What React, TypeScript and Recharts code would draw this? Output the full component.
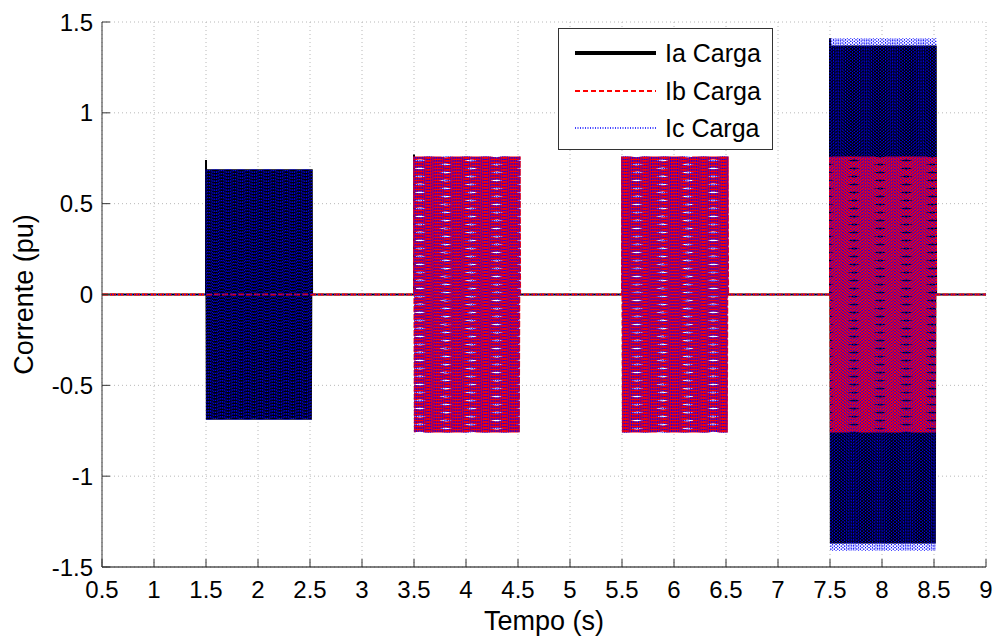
import React from "react";
import {
  ComposedChart,
  Line,
  XAxis,
  YAxis,
  CartesianGrid,
  Label,
} from "recharts";

// time windows (s) where the load is connected
const bursts: [number, number][] = [
  [1.5, 2.52],
  [3.5, 4.52],
  [5.5, 6.52],
  [7.5, 8.52],
];

// peak current (pu) of each phase in each window
const iaPeak = [0.69, 0, 0, 1.37];
const ibPeak = [0, 0.76, 0.76, 0.76];
const icPeak = [0.69, 0.76, 0.76, 1.41];
// first peak of Ia when the load switches on
const iaOnset = [0.74, 0.77, 0, 1.41];

const xTicks = [0.5, 1, 1.5, 2, 2.5, 3, 3.5, 4, 4.5, 5, 5.5, 6, 6.5, 7, 7.5, 8, 8.5, 9];
const yTicks = [-1.5, -1, -0.5, 0, 0.5, 1, 1.5];

const halfCyclesPerSecond = 120; // 60 Hz

type Row = { t: number; ia: number; ib: number; ic: number };

const rows: Row[] = [{ t: 0.5, ia: 0, ib: 0, ic: 0 }];
bursts.forEach(([start, end], i) => {
  rows.push({ t: start, ia: 0, ib: 0, ic: 0 });
  const n = Math.round((end - start) * halfCyclesPerSecond);
  for (let k = 0; k <= n; k++) {
    const s = k % 2 === 0 ? 1 : -1;
    rows.push({
      t: start + k / halfCyclesPerSecond,
      ia: k === 0 ? iaOnset[i] : s * iaPeak[i],
      ib: s * ibPeak[i],
      ic: s * icPeak[i],
    });
  }
  rows.push({ t: end, ia: 0, ib: 0, ic: 0 });
});
rows.push({ t: 9, ia: 0, ib: 0, ic: 0 });

const FONT = "'Liberation Sans', Arial, Helvetica, sans-serif";
const AXIS = "#333333";

const BottomTick = (props: any) => {
  const { x, y, payload } = props;
  return (
    <g>
      <line x1={x} x2={x} y1={y} y2={y - 8} stroke={AXIS} strokeWidth={1} />
      <text x={x} y={y + 31} textAnchor="middle" fontSize={24} fill="#000" fontFamily={FONT}>
        {String(payload.value)}
      </text>
    </g>
  );
};

const TopTick = (props: any) => {
  const { x, y } = props;
  return <line x1={x} x2={x} y1={y} y2={y + 8} stroke={AXIS} strokeWidth={1} />;
};

const LeftTick = (props: any) => {
  const { x, y, payload } = props;
  return (
    <g>
      <line x1={x} x2={x + 8} y1={y} y2={y} stroke={AXIS} strokeWidth={1} />
      <text x={x - 9} y={y + 8.5} textAnchor="end" fontSize={24} fill="#000" fontFamily={FONT}>
        {String(payload.value)}
      </text>
    </g>
  );
};

const RightTick = (props: any) => {
  const { x, y } = props;
  return <line x1={x} x2={x - 8} y1={y} y2={y} stroke={AXIS} strokeWidth={1} />;
};

const legendItems = [
  { name: "Ia Carga", color: "#000000", width: 4, dash: undefined },
  { name: "Ib Carga", color: "#ff0000", width: 2, dash: "5 3" },
  { name: "Ic Carga", color: "#0000ff", width: 1.5, dash: "1 1.5" },
];

export default function App() {
  return (
    <div
      style={{
        position: "absolute",
        left: 0,
        top: 0,
        width: 998,
        height: 639,
        background: "#fff",
        fontFamily: FONT,
      }}
    >
      <ComposedChart
        width={998}
        height={639}
        data={rows}
        margin={{ top: 22, right: 12, bottom: 22, left: 42 }}
      >
        <CartesianGrid stroke="#b8b8b8" strokeDasharray="1 3" />
        <XAxis
          dataKey="t"
          type="number"
          domain={[0.5, 9]}
          ticks={xTicks}
          interval={0}
          height={50}
          tickSize={0}
          tickMargin={0}
          tickLine={false}
          axisLine={{ stroke: "#000" }}
          tick={BottomTick}
          allowDataOverflow
        >
          <Label
            content={(p: any) => {
              const vb = p.viewBox;
              return (
                <text
                  x={vb.x + vb.width / 2}
                  y={vb.y + 63}
                  textAnchor="middle"
                  fontSize={27}
                  fontFamily={FONT}
                  fill="#000"
                >
                  Tempo (s)
                </text>
              );
            }}
          />
        </XAxis>
        <XAxis
          xAxisId="top"
          orientation="top"
          dataKey="t"
          type="number"
          domain={[0.5, 9]}
          ticks={xTicks}
          interval={0}
          height={0}
          tickSize={0}
          tickMargin={0}
          tickLine={false}
          axisLine={{ stroke: AXIS }}
          tick={TopTick}
          allowDataOverflow
        />
        <YAxis
          type="number"
          domain={[-1.5, 1.5]}
          ticks={yTicks}
          interval={0}
          width={60}
          tickSize={0}
          tickMargin={0}
          tickLine={false}
          axisLine={{ stroke: AXIS }}
          tick={LeftTick}
          allowDataOverflow
        >
          <Label
            content={(p: any) => {
              const vb = p.viewBox;
              const cx = vb.x - 9;
              const cy = vb.y + vb.height / 2;
              return (
                <text
                  x={cx}
                  y={cy}
                  transform={`rotate(-90 ${cx} ${cy})`}
                  textAnchor="middle"
                  fontSize={27}
                  fontFamily={FONT}
                  fill="#000"
                >
                  Corrente (pu)
                </text>
              );
            }}
          />
        </YAxis>
        <YAxis
          yAxisId="right"
          orientation="right"
          type="number"
          domain={[-1.5, 1.5]}
          ticks={yTicks}
          interval={0}
          width={0}
          tickSize={0}
          tickMargin={0}
          tickLine={false}
          axisLine={{ stroke: AXIS }}
          tick={RightTick}
          allowDataOverflow
        />
        <Line
          dataKey="ia"
          type="linear"
          stroke="#000000"
          strokeWidth={2}
          dot={false}
          activeDot={false}
          isAnimationActive={false}
        />
        <Line
          dataKey="ib"
          type="linear"
          stroke="#ff0000"
          strokeWidth={2}
          strokeDasharray="6 2"
          dot={false}
          activeDot={false}
          isAnimationActive={false}
        />
        <Line
          dataKey="ic"
          type="linear"
          stroke="#0000ff"
          strokeWidth={1}
          strokeDasharray="1 2"
          dot={false}
          activeDot={false}
          isAnimationActive={false}
        />
      </ComposedChart>
      <div
        style={{
          position: "absolute",
          left: 558,
          top: 28,
          width: 213,
          height: 120,
          border: "1px solid #333",
          background: "#fff",
        }}
      >
        {legendItems.map((it, i) => (
          <div
            key={it.name}
            style={{
              position: "absolute",
              left: 0,
              top: 6 + i * 37.5,
              height: 36,
              display: "flex",
              alignItems: "center",
            }}
          >
            <svg width={100} height={36} style={{ display: "block" }}>
              <line
                x1={16}
                x2={97}
                y1={18}
                y2={18}
                stroke={it.color}
                strokeWidth={it.width}
                strokeDasharray={it.dash}
              />
            </svg>
            <span style={{ fontSize: 25, color: "#000", marginLeft: 6, lineHeight: "36px" }}>
              {it.name}
            </span>
          </div>
        ))}
      </div>
    </div>
  );
}
